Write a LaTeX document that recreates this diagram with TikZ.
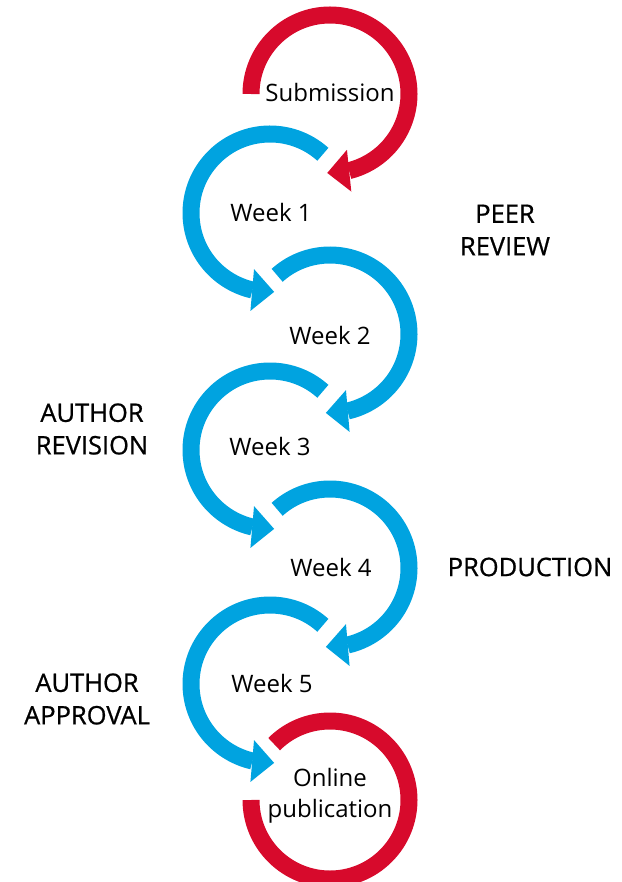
\documentclass[tikz,border=0pt]{standalone}
\usepackage{fontspec}
\setmainfont{Open Sans}
\newfontfamily\phasefont[FakeBold=0.7]{Open Sans}
\usetikzlibrary{arrows.meta,bending}

\definecolor{subred}{RGB}{215,10,44}
\definecolor{weekblue}{RGB}{0,163,224}

\begin{document}
\begin{tikzpicture}[x=1pt, y=1pt,
		ring/.style={line width=17pt},
		loop/.style={ring, -{Triangle[length=22pt, width=42pt, line width=0pt]}},
		stage/.style={font=\fontsize{24}{31}\selectfont, align=center, inner sep=0pt},
		phase/.style={font=\phasefont\fontsize{25.5}{32.5}\selectfont, align=center, inner sep=0pt}]

		%%% FRAME - keeps the page size
		\useasboundingbox (0,0) rectangle (621,-882);

		%% Ring centres
		\coordinate (c0) at (330,-94);
		\coordinate (c1) at (270,-213);
		\coordinate (c2) at (330,-334);
		\coordinate (c3) at (270,-450);
		\coordinate (c4) at (330,-568);
		\coordinate (c5) at (270,-684);
		\coordinate (c6) at (330,-800);

		% SUBMISSION
		\draw[loop, subred] (c0) ++(180:79) arc[start angle=180, end angle=-92, radius=79];
		\node[stage] (sub) at (330,-93) {Submission};

		% WEEK 1
		\draw[loop, weekblue] (c1) ++(48:79) arc[start angle=48, end angle=273, radius=79];
		\node[stage] (w1) at (271,-213) {Week 1};

		% WEEK 2
		\draw[loop, weekblue] (c2) ++(132:79) arc[start angle=132, end angle=-93, radius=79];
		\node[stage] (w2) at (330,-335) {Week 2};

		% WEEK 3
		\draw[loop, weekblue] (c3) ++(48:79) arc[start angle=48, end angle=273, radius=79];
		\node[stage] (w3) at (270,-446) {Week 3};

		% WEEK 4
		\draw[loop, weekblue] (c4) ++(132:79) arc[start angle=132, end angle=-93, radius=79];
		\node[stage] (w4) at (331,-567) {Week 4};

		% WEEK 5
		\draw[loop, weekblue] (c5) ++(48:79) arc[start angle=48, end angle=273, radius=79];
		\node[stage] (w5) at (272,-683) {Week 5};

		% ONLINE PUBLICATION
		\draw[ring, subred] (c6) ++(135:79) arc[start angle=135, end angle=-180, radius=79];
		\node[stage] (pub) at (330,-796) {Online\\publication};

		%% Phase labels
		\node[phase] (peer) at (505,-230) {PEER\\REVIEW};
		\node[phase] (rev) at (92,-429) {AUTHOR\\REVISION};
		\node[phase] (prod) at (530,-567) {PRODUCTION};
		\node[phase] (appr) at (87,-699) {AUTHOR\\APPROVAL};
	\end{tikzpicture}
\end{document}
